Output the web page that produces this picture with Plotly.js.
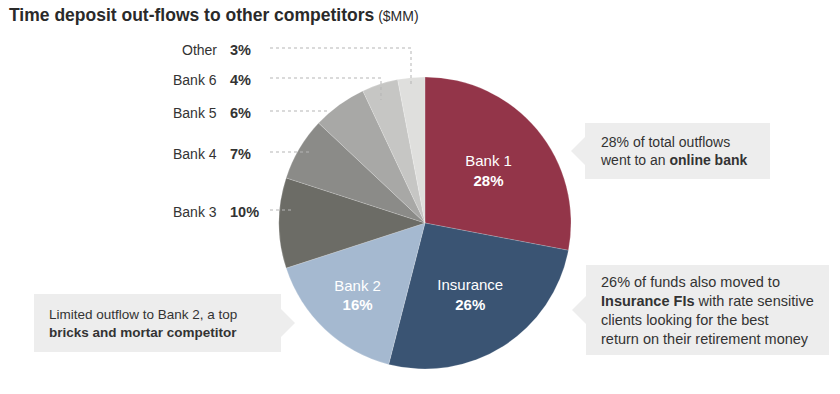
<!DOCTYPE html>
<html><head><meta charset="utf-8">
<script src="https://cdn.plot.ly/plotly-3.0.1.min.js"></script>
<style>html,body{margin:0;padding:0;background:#fff}#chart{width:840px;height:394px}</style>
</head><body><div id="chart"></div>
<script>
// Data
const categories = ["Bank 1", "Insurance", "Bank 2", "Bank 3", "Bank 4", "Bank 5", "Bank 6", "Other"];
const shares = [28, 26, 16, 10, 7, 6, 4, 3];
const sliceColors = ["#933549", "#3A5473", "#A5B9D0", "#6C6C66", "#8B8B88", "#A8A8A6", "#C6C6C4", "#DFDFDD"];
const showInside = [true, true, true, false, false, false, false, false];
// side labels (small slices)
const sideLabelIdx = [7, 6, 5, 4, 3];
const sideLabelY = [50, 80, 113, 154, 212];
const leaderEnds = [[411, 87], [381, 100], [330, 112], [310, 154], [292, 212]];
const callouts = [
  {text: "28% of total outflows<br>went to an <b>online bank</b>", box: [585, 123, 770, 179], side: "left", size: 14},
  {text: "26% of funds also moved to<br><b>Insurance FIs</b> with rate sensitive<br>clients looking for the best<br>return on their retirement money", box: [586, 265, 829, 355], side: "left", size: 14.5},
  {text: "Limited outflow to Bank 2, a top<br><b>bricks and mortar competitor</b>", box: [34, 294, 281, 352], side: "right", size: 13.5}
];

const W = 840, H = 394;
const px = x => x / W, py = y => 1 - y / H;
const FONT = "Liberation Sans, Arial, sans-serif";
const cx = 425, cy = 223, R = 146;

const trace = {
  type: "pie",
  labels: categories,
  values: shares,
  sort: false,
  direction: "clockwise",
  rotation: 0,
  marker: {colors: sliceColors, line: {color: "rgba(255,255,255,0.35)", width: 0.5}},
  textinfo: "none",
  texttemplate: showInside.map(s => s ? "%{label}<br><b>%{percent:.0%}</b>" : ""),
  textposition: showInside.map(s => s ? "inside" : "none"),
  insidetextorientation: "horizontal",
  insidetextfont: {family: FONT, size: 15, color: "#ffffff"},
  hoverinfo: "label+percent",
  domain: {x: [px(cx - R), px(cx + R)], y: [py(cy + R), py(cy - R)]},
  showlegend: false
};

const annotations = [];
const shapes = [];
annotations.push({
  xref: "paper", yref: "paper", x: px(7), y: py(15), xanchor: "left", yanchor: "middle",
  showarrow: false, align: "left",
  text: "<b>Time deposit out-flows to other competitors</b><span style='font-size:14px;font-weight:normal'> ($MM)</span>",
  font: {family: FONT, size: 17.5, color: "#2a2a2a"}
});
sideLabelIdx.forEach((idx, k) => {
  const y = sideLabelY[k];
  annotations.push({xref: "paper", yref: "paper", x: px(219), y: py(y), xanchor: "right", yanchor: "middle",
    showarrow: false, text: categories[idx], font: {family: FONT, size: 14, color: "#333333"}});
  annotations.push({xref: "paper", yref: "paper", x: px(228), y: py(y), xanchor: "left", yanchor: "middle",
    showarrow: false, text: "<b>" + shares[idx] + "%</b>", font: {family: FONT, size: 14.5, color: "#333333"}});
  const [ex, ey] = leaderEnds[k];
  const ly = y - 2;
  let path = `M ${px(270)} ${py(ly)} L ${px(ex)} ${py(ly)}`;
  if (ey > ly + 2) path += ` L ${px(ex)} ${py(ey)}`;
  shapes.push({type: "path", xref: "paper", yref: "paper", path: path,
    line: {color: "#b5b5b5", width: 1, dash: "3px,3px"}});
});
callouts.forEach(c => {
  const [x0, y0, x1, y1] = c.box;
  const ym = (y0 + y1) / 2;
  shapes.push({type: "rect", xref: "paper", yref: "paper", x0: px(x0), x1: px(x1), y0: py(y1), y1: py(y0),
    fillcolor: "#EDEDED", line: {width: 0}, layer: "below"});
  let tri;
  if (c.side === "left") tri = `M ${px(x0)} ${py(ym - 14)} L ${px(x0 - 14)} ${py(ym)} L ${px(x0)} ${py(ym + 14)} Z`;
  else tri = `M ${px(x1)} ${py(ym - 14)} L ${px(x1 + 14)} ${py(ym)} L ${px(x1)} ${py(ym + 14)} Z`;
  shapes.push({type: "path", xref: "paper", yref: "paper", path: tri, fillcolor: "#EDEDED", line: {width: 0}, layer: "below"});
  annotations.push({xref: "paper", yref: "paper", x: px(x0 + 13), y: py(ym), xanchor: "left", yanchor: "middle",
    showarrow: false, align: "left", text: c.text, font: {family: FONT, size: c.size, color: "#333333"}});
});

const layout = {
  width: W, height: H, margin: {l: 0, r: 0, t: 0, b: 0},
  paper_bgcolor: "#ffffff", plot_bgcolor: "#ffffff",
  annotations: annotations, shapes: shapes, showlegend: false
};
Plotly.newPlot("chart", [trace], layout, {displayModeBar: false, staticPlot: true});
</script></body></html>
